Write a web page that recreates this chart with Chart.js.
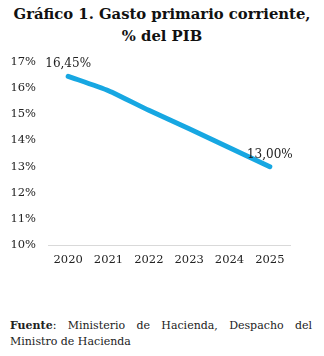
<!DOCTYPE html>
<html>
<head>
<meta charset="utf-8">
<script src="https://cdn.jsdelivr.net/npm/chart.js@4"></script>
<style>
  body { margin: 0; background: #fff; width: 324px; height: 356px; overflow: hidden; }
  .titulo {
    position: absolute; left: 0; top: 3px; width: 324px;
    text-align: center; font: bold 14.8px "DejaVu Serif", serif;
    line-height: 22px; color: #111;
  }
  .grafico { position: absolute; left: 0; top: 43px; width: 324px; height: 232px; }
  .fuente {
    position: absolute; left: 10px; top: 318px; width: 302px;
    font: 11px "DejaVu Serif", serif; line-height: 16px; color: #222;
    text-align: justify; text-align-last: left;
  }
</style>
</head>
<body>
<div class="titulo">Gráfico 1. Gasto primario corriente,<br>% del PIB</div>
<div class="grafico"><canvas id="gastoChart"></canvas></div>
<div class="fuente"><b>Fuente</b>: Ministerio de Hacienda, Despacho del Ministro de Hacienda</div>
<script>
const anios = ['2020', '2021', '2022', '2023', '2024', '2025'];
const gastoPib = [16.45, 15.9, 15.15, 14.45, 13.72, 13.0];
// only the first and last points carry a label
const etiquetas = ['16,45%', null, null, null, null, '13,00%'];

const fuenteEjes = { family: 'DejaVu Serif', size: 11.5 };

// writes the value labels over the line
const etiquetasPlugin = {
  id: 'etiquetas',
  afterDatasetsDraw(chart) {
    const { ctx } = chart;
    const meta = chart.getDatasetMeta(0);
    ctx.save();
    ctx.font = '12px "DejaVu Serif"';
    ctx.fillStyle = '#222';
    ctx.textAlign = 'center';
    ctx.textBaseline = 'bottom';
    meta.data.forEach((pt, i) => {
      if (!etiquetas[i]) return;
      ctx.fillText(etiquetas[i], pt.x, pt.y - 6);
    });
    ctx.restore();
  }
};

new Chart(document.getElementById('gastoChart'), {
  type: 'line',
  data: {
    labels: anios,
    datasets: [{
      data: gastoPib,
      borderColor: '#17a7e2',
      borderWidth: 5,
      borderCapStyle: 'round',
      borderJoinStyle: 'round',
      tension: 0.2,
      pointRadius: 0,
      fill: false
    }]
  },
  options: {
    responsive: true,
    maintainAspectRatio: false,
    animation: false,
    layout: { padding: { top: 9, right: 34, left: 0, bottom: 0 } },
    plugins: { legend: { display: false }, tooltip: { enabled: false } },
    scales: {
      x: {
        offset: true,
        grid: { display: false, drawTicks: false },
        border: { display: true, color: '#d9d9d9', width: 1 },
        ticks: { color: '#222', font: fuenteEjes, padding: 8 }
      },
      y: {
        min: 10,
        max: 17,
        grid: { display: false, drawTicks: false },
        border: { display: false },
        afterFit(scale) { scale.width = 48; },
        ticks: {
          stepSize: 1,
          padding: 12,
          color: '#222',
          font: fuenteEjes,
          callback: v => v + '%'
        }
      }
    }
  },
  plugins: [etiquetasPlugin]
});
</script>
</body>
</html>
